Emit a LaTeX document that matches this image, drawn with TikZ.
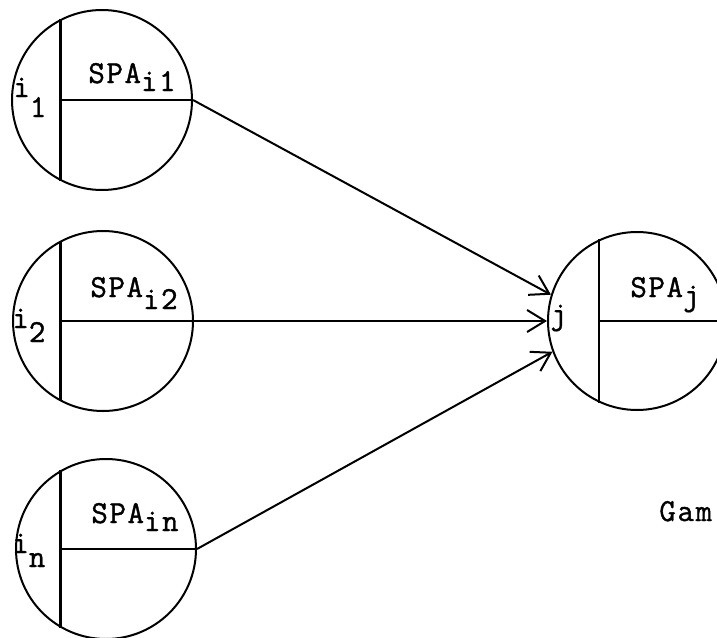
\documentclass[tikz,border=0pt]{standalone}
\usepackage{fontspec}
\setmonofont{Latin Modern Mono}[LetterSpace=5,FakeBold=1.2]
\usetikzlibrary{arrows.meta}
\tikzstyle{spa}=[circle,draw=black,line width=1pt,inner sep=0pt,
  minimum size=90pt]
\tikzstyle{split}=[line width=1.4pt]
\tikzstyle{arw}=[line width=1pt,
  -{Straight Barb[length=9pt,width=11pt,line width=1pt]}]
\tikzstyle{lbl}=[inner sep=0pt,anchor=base west,
  font=\fontsize{16}{19}\selectfont\ttfamily]
\tikzstyle{none}=[]
\newcommand{\lowr}[2][4pt]{\raisebox{-#1}{#2}}

\begin{document}
\begin{tikzpicture}[x=0.5pt,y=-0.5pt]
            \useasboundingbox (0,0) rectangle (717,637);
            \clip (0,0) rectangle (717,637);
            \node [style=spa] (i1) at (102,100) {};
            \node [style=spa] (i2) at (103,321) {};
            \node [style=spa] (in) at (106,549) {};
            \node [style=spa,minimum size=89pt] (j) at (637,321) {};
            \draw [style=split] (i1.117) to (i1.243);
            \draw [style=split] (i1.117 |- i1.center) to (i1.east);
            \draw [style=split] (i2.118) to (i2.242);
            \draw [style=split] (i2.118 |- i2.center) to (i2.east);
            \draw [style=split] (in.120) to (in.240);
            \draw [style=split] (in.120 |- in.center) to (in.east);
            \draw [style=split] (j.115) to (j.245);
            \draw [style=split] (j.115 |- j.center) to (j.east);
            \node [style=lbl] (l1) at (13,97) {i\lowr[10pt]{1}};
            \node [style=lbl] (s1) at (88,83) {SPA\lowr{i1}};
            \node [style=lbl] (l2) at (12,328) {i\lowr[7pt]{2}};
            \node [style=lbl] (s2) at (90,297) {SPA\lowr[6pt]{i2}};
            \node [style=lbl] (ln) at (12,553) {i\lowr[7pt]{n}};
            \node [style=lbl] (sn) at (91,523) {SPA\lowr{in}};
            \node [style=lbl] (lj) at (550,324) {j};
            \node [style=lbl] (sj) at (630,297) {SPA\lowr{j}};
            \draw [style=arw] (i1.east) to (j.163);
            \draw [style=arw] (i2.east) to (j.west);
            \draw [style=arw] (in.east) to (j.200);
            \node [style=lbl] (g) at (659,521) {Gam};
    \end{tikzpicture}
\end{document}
